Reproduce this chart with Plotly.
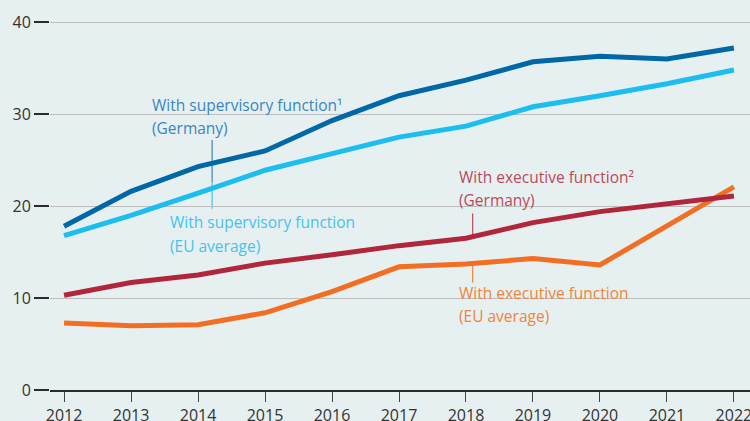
import plotly.graph_objects as go

years = [2012, 2013, 2014, 2015, 2016, 2017, 2018, 2019, 2020, 2021, 2022]
sup_de = [17.8, 21.6, 24.3, 26.0, 29.3, 32.0, 33.7, 35.7, 36.3, 36.0, 37.2]
sup_eu = [16.8, 19.0, 21.4, 23.9, 25.7, 27.5, 28.7, 30.8, 32.0, 33.3, 34.8]
exe_de = [10.3, 11.7, 12.5, 13.8, 14.7, 15.7, 16.5, 18.2, 19.4, 20.2, 21.1]
exe_eu = [7.3, 7.0, 7.1, 8.4, 10.7, 13.4, 13.7, 14.3, 13.6, 17.9, 22.1]
y_ticks = [0, 10, 20, 30, 40]

C_SUP_DE = "#0068a6"
C_SUP_EU = "#1cbdf0"
C_EXE_DE = "#b2263b"
C_EXE_EU = "#f26e22"
T_SUP_DE = "#3a86c0"
T_SUP_EU = "#45c3ef"
T_EXE_DE = "#b94a5c"
T_EXE_EU = "#f0843a"
BG = "#e7f0f1"
FONT = "Open Sans"

fig = go.Figure()
for vals, col in [(exe_eu, C_EXE_EU), (exe_de, C_EXE_DE), (sup_eu, C_SUP_EU), (sup_de, C_SUP_DE)]:
    fig.add_trace(go.Scatter(x=years, y=vals, mode="lines",
                             line=dict(color=col, width=5), hoverinfo="skip", showlegend=False))

# pointer lines
fig.add_shape(type="line", xref="x", yref="y", x0=2014.21, x1=2014.21, y0=27.2, y1=22.6,
              line=dict(color=T_SUP_DE, width=1.2), layer="below")
fig.add_shape(type="line", xref="x", yref="y", x0=2014.21, x1=2014.21, y0=22.6, y1=19.7,
              line=dict(color=T_SUP_EU, width=1.2), layer="below")
fig.add_shape(type="line", xref="x", yref="y", x0=2018.10, x1=2018.10, y0=19.2, y1=16.6,
              line=dict(color=T_EXE_DE, width=1.2), layer="below")
fig.add_shape(type="line", xref="x", yref="y", x0=2018.10, x1=2018.10, y0=13.8, y1=11.7,
              line=dict(color=T_EXE_EU, width=1.2), layer="below")

def label(x, y, text, color):
    fig.add_annotation(x=x, y=y, xref="x", yref="y", text=text, showarrow=False,
                       xanchor="left", yanchor="middle",
                       font=dict(family=FONT, size=15.5, color=color))

label(2013.28, 31.0, "With supervisory function¹", T_SUP_DE)
label(2013.28, 28.5, "(Germany)", T_SUP_DE)
label(2013.55, 18.3, "With supervisory function", T_SUP_EU)
label(2013.55, 15.7, "(EU average)", T_SUP_EU)
label(2017.87, 23.2, "With executive function²", T_EXE_DE)
label(2017.87, 20.7, "(Germany)", T_EXE_DE)
label(2017.87, 10.6, "With executive function", T_EXE_EU)
label(2017.87, 8.1, "(EU average)", T_EXE_EU)

fig.update_layout(
    width=750, height=421,
    margin=dict(l=50, r=0, t=13, b=31, autoexpand=False),
    paper_bgcolor=BG, plot_bgcolor=BG,
    font=dict(family=FONT, size=16, color="#333333"),
    xaxis=dict(range=[2011.79, 2022.24], tickmode="array", tickvals=years,
               ticktext=[str(y) for y in years], showgrid=False, zeroline=False,
               showline=True, linecolor="#2b2b2b", linewidth=1.5,
               ticks="outside", ticklen=10, tickcolor="#444444", tickwidth=1,
               ticklabeloverflow="allow", automargin=False,
               tickfont=dict(family=FONT, size=16, color="#333333"), fixedrange=True),
    yaxis=dict(range=[0, 41], tickmode="array", tickvals=y_ticks, showgrid=True,
               gridcolor="#bdbdbd", gridwidth=1, zeroline=False, showline=False,
               ticks="outside", ticklen=15, tickcolor="#2b2b2b", tickwidth=1.5,
               automargin=False,
               tickfont=dict(family=FONT, size=16, color="#333333"), fixedrange=True),
)

fig.write_html("out.html", config={"displayModeBar": False},
               post_script="document.body.style.margin='0';document.body.style.background='" + BG + "';")
